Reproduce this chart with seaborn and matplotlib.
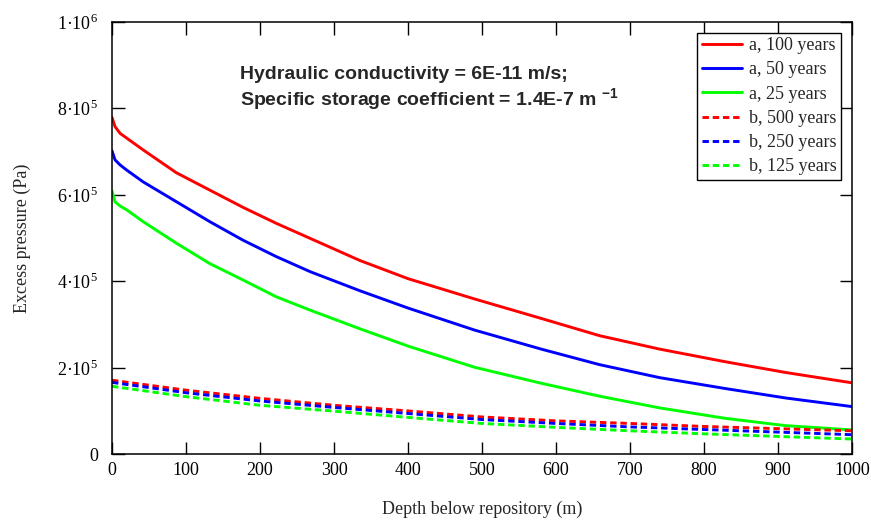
import numpy as np
import pandas as pd
import matplotlib
matplotlib.use("Agg")
import matplotlib.pyplot as plt
import seaborn as sns

# depth below repository (m)
depth_a = [0, 4, 11, 20, 42, 87, 132, 177, 222, 268, 335, 400, 490, 580, 659, 740, 828, 910, 1000]
depth_b = [0, 100, 200, 300, 400, 500, 600, 700, 800, 900, 1000]

# excess pressure, in units of 1e6 Pa
a_100 = [0.779, 0.758, 0.742, 0.731, 0.704, 0.651, 0.611, 0.571, 0.534, 0.499, 0.448, 0.406,
         0.359, 0.314, 0.274, 0.243, 0.214, 0.189, 0.165]
a_50 = [0.702, 0.681, 0.669, 0.657, 0.630, 0.584, 0.538, 0.495, 0.457, 0.422, 0.378, 0.338,
        0.287, 0.243, 0.207, 0.177, 0.152, 0.130, 0.110]
a_25 = [0.609, 0.584, 0.574, 0.565, 0.538, 0.488, 0.441, 0.403, 0.364, 0.333, 0.290, 0.250,
        0.201, 0.164, 0.134, 0.107, 0.083, 0.066, 0.056]
b_500 = [0.171, 0.148, 0.129, 0.113, 0.100, 0.086, 0.077, 0.071, 0.064, 0.059, 0.054]
b_250 = [0.166, 0.142, 0.123, 0.108, 0.094, 0.080, 0.071, 0.063, 0.057, 0.051, 0.045]
b_125 = [0.157, 0.133, 0.113, 0.0995, 0.085, 0.071, 0.062, 0.054, 0.047, 0.041, 0.035]

series_names = ["a, 100 years", "a, 50 years", "a, 25 years",
                "b, 500 years", "b, 250 years", "b, 125 years"]
series_vals = [a_100, a_50, a_25, b_500, b_250, b_125]
series_depth = [depth_a, depth_a, depth_a, depth_b, depth_b, depth_b]

yticks = [0, 2e5, 4e5, 6e5, 8e5, 1e6]
ytick_labels = ["0", "2·10$^5$", "4·10$^5$", "6·10$^5$", "8·10$^5$", "1·10$^6$"]

rows = []
for name, d, v in zip(series_names, series_depth, series_vals):
    for di, vi in zip(d, v):
        rows.append({"depth": di, "pressure": vi * 1e6, "series": name})
df = pd.DataFrame(rows)

sns.set_style("ticks")
plt.rcParams["font.family"] = ["Liberation Serif", "DejaVu Serif"]
plt.rcParams["mathtext.fontset"] = "custom"
plt.rcParams["mathtext.rm"] = "Liberation Serif"
plt.rcParams["mathtext.sf"] = "Liberation Sans:bold"

palette = {"a, 100 years": "#ff0000", "a, 50 years": "#0000ff", "a, 25 years": "#00ff00",
           "b, 500 years": "#ff0000", "b, 250 years": "#0000ff", "b, 125 years": "#00ff00"}
dashes = {"a, 100 years": "", "a, 50 years": "", "a, 25 years": "",
          "b, 500 years": (2.2, 1.3), "b, 250 years": (2.2, 1.3), "b, 125 years": (2.2, 1.3)}

fig = plt.figure(figsize=(8.71, 5.22), dpi=100)
ax = fig.add_axes([0.1286, 0.130, 0.8496, 0.828])

sns.lineplot(data=df, x="depth", y="pressure", hue="series", style="series",
             hue_order=series_names, style_order=series_names,
             palette=palette, dashes=dashes, linewidth=2.1, ax=ax)

ax.set_xlim(0, 1000)
ax.set_ylim(0, 1e6)
ax.set_xticks(np.arange(0, 1001, 100))
ax.set_yticks(yticks)
ax.set_yticklabels(ytick_labels)
ax.tick_params(direction="in", length=9, width=1, labelsize=13,
               top=True, right=True, colors="black")
ax.tick_params(axis="x", pad=6)
ax.tick_params(axis="y", pad=10)
for sp in ax.spines.values():
    sp.set_linewidth(1.1)
    sp.set_color("black")

ax.set_xlabel("Depth below repository (m)", fontsize=13, labelpad=15)
ax.set_ylabel("Excess pressure (Pa)", fontsize=13, labelpad=19)

ax.text(0.173, 0.868, "Hydraulic conductivity = 6E-11 m/s;", transform=ax.transAxes,
        fontsize=14, fontweight="bold", family="Liberation Sans")
ax.text(0.173, 0.806, "Specific storage coefficient = 1.4E-7 m $^{\\mathsf{-1}}$",
        transform=ax.transAxes, fontsize=14, fontweight="bold", family="Liberation Sans")

leg = ax.legend(loc="upper right", fontsize=13, frameon=True, fancybox=False,
                edgecolor="black", framealpha=1, handlelength=2.2, borderaxespad=0.6,
                labelspacing=0.40, borderpad=0.25, handletextpad=0.4)
leg.get_frame().set_linewidth(1.0)

fig.savefig("out.png", dpi=100)
